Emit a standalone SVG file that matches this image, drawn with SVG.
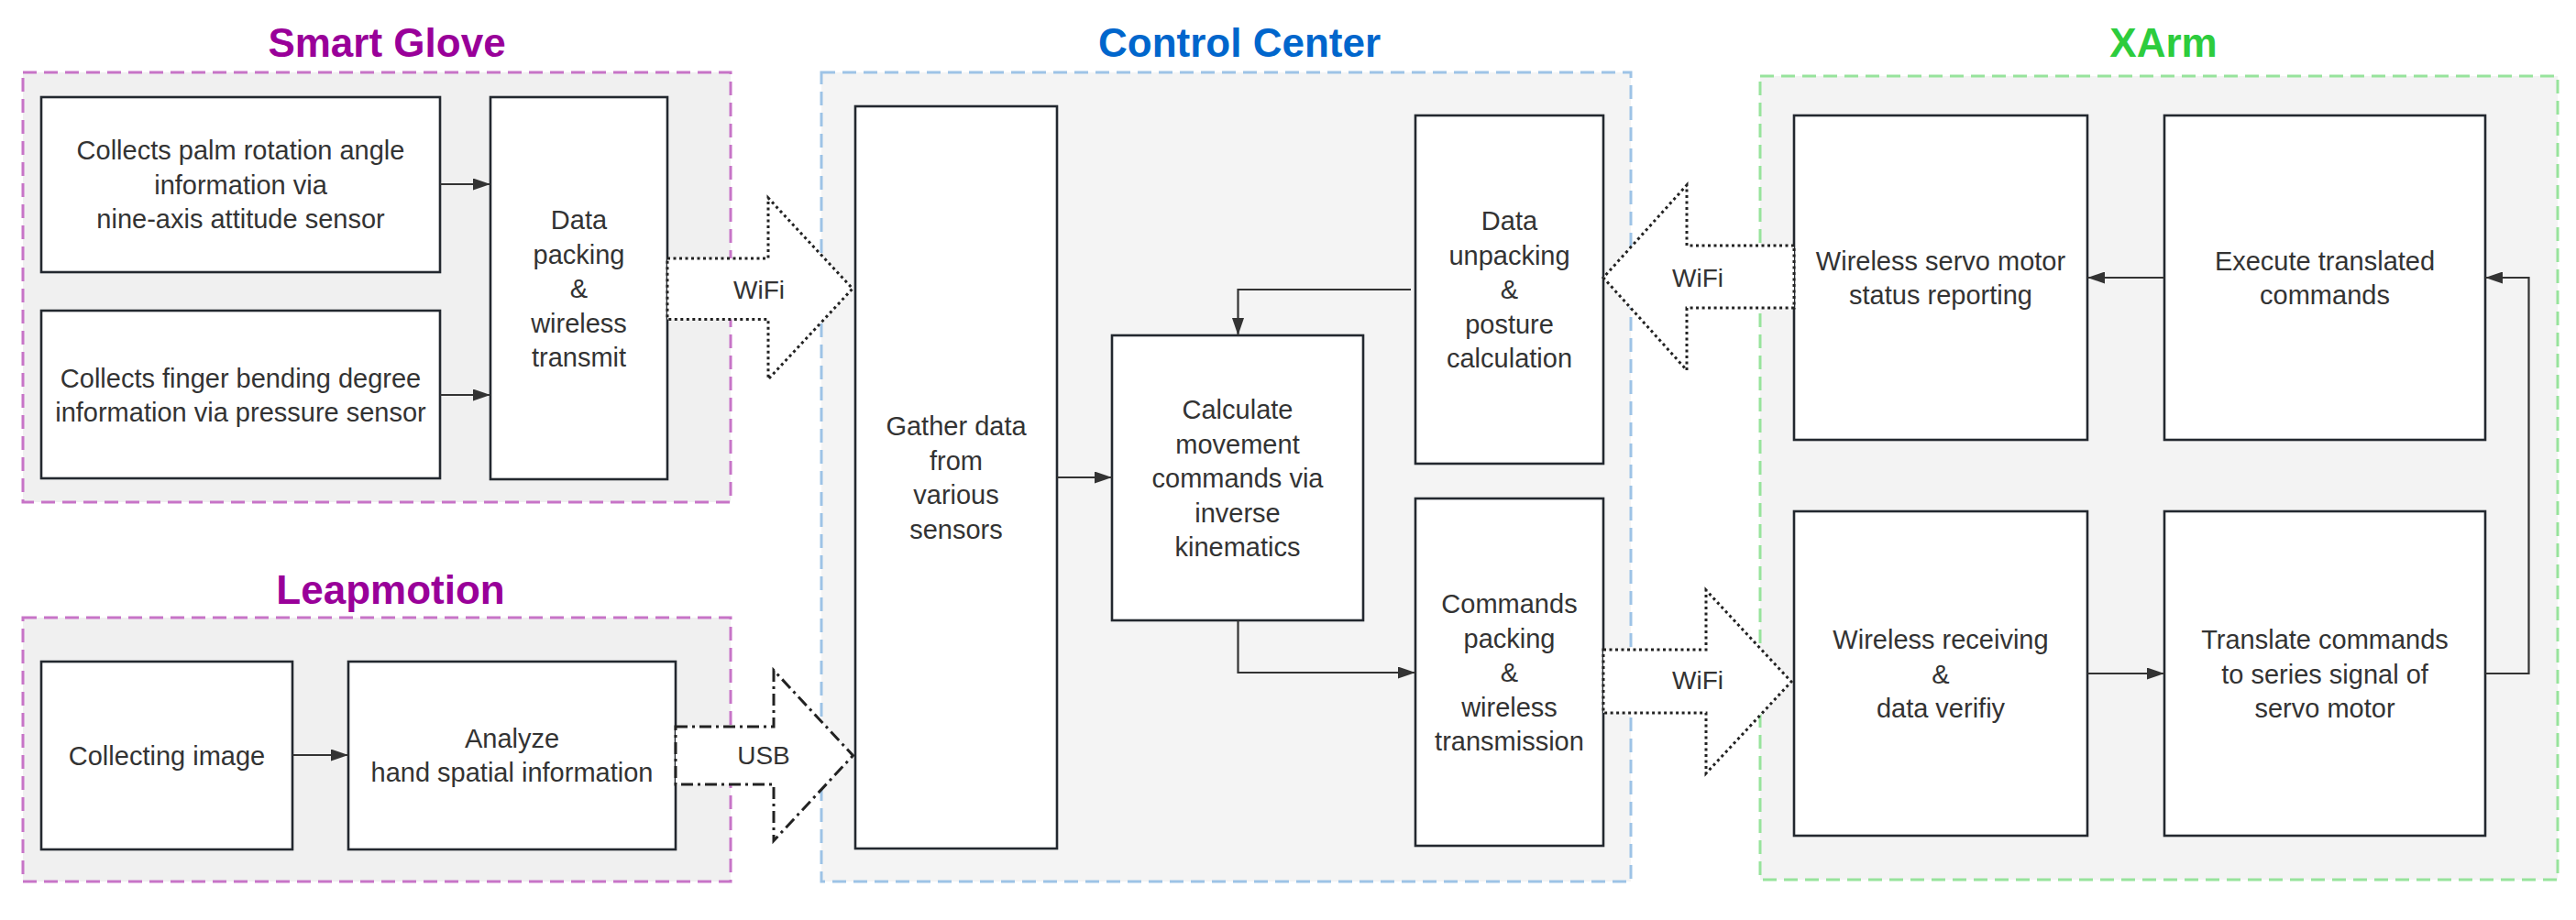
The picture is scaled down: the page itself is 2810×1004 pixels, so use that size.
<svg xmlns="http://www.w3.org/2000/svg" width="2810" height="1004" viewBox="0 0 2810 1004">
<defs>
<style>
.bg{fill:#ffffff}
.cg{fill:#f0f0f0;stroke:#c774c7;stroke-width:3;stroke-dasharray:15 8}
.cc{fill:#f4f4f4;stroke:#9dc3e6;stroke-width:3;stroke-dasharray:15 8}
.cx{fill:#f3f3f3;stroke:#97e39c;stroke-width:3;stroke-dasharray:15 8}
.ttl{font-family:"Liberation Sans",Arial,sans-serif;font-size:44px;font-weight:bold;text-anchor:middle}
.box{fill:#ffffff;stroke:#23282f;stroke-width:2.6}
.t{font-family:"Liberation Sans",Arial,sans-serif;font-size:29px;fill:#333333;text-anchor:middle}
.lbl{font-family:"Liberation Sans",Arial,sans-serif;font-size:28px;fill:#333333;text-anchor:middle}
.ln{fill:none;stroke:#333333;stroke-width:2.2}
.dot{fill:#ffffff;stroke:#222222;stroke-width:3;stroke-dasharray:3 3.5}
.dd{fill:#ffffff;stroke:#222222;stroke-width:3;stroke-dasharray:13 5 3 5}
</style>
<marker id="ah" viewBox="0 0 19 13" refX="19" refY="6.5" markerWidth="19" markerHeight="13" markerUnits="userSpaceOnUse" orient="auto">
<path d="M0,0 L19,6.5 L0,13 Z" fill="#333333"/>
</marker>
</defs>
<rect class="bg" x="0" y="0" width="2810" height="1004"/>

<g id="container-smart-glove">
<rect class="cg" x="25" y="79" width="772" height="469"/>
<text class="ttl" x="422" y="62" fill="#990099">Smart Glove</text>
</g>
<g id="container-leapmotion">
<rect class="cg" x="25" y="674" width="772" height="288"/>
<text class="ttl" x="426" y="659" fill="#990099">Leapmotion</text>
</g>
<g id="container-control-center">
<rect class="cc" x="896" y="79" width="883" height="883"/>
<text class="ttl" x="1352" y="62" fill="#0066cc">Control Center</text>
</g>
<g id="container-xarm">
<rect class="cx" x="1920" y="83" width="870" height="877"/>
<text class="ttl" x="2360" y="62" fill="#2dcc3d">XArm</text>
</g>

<g id="node-palm">
<rect class="box" x="45" y="106" width="435" height="191"/>
<text class="t"><tspan x="262.5" y="174">Collects palm rotation angle</tspan><tspan x="262.5" y="211.5">information via</tspan><tspan x="262.5" y="249">nine-axis attitude sensor</tspan></text>
</g>
<g id="node-finger">
<rect class="box" x="45" y="339" width="435" height="183"/>
<text class="t"><tspan x="262.5" y="423">Collects finger bending degree</tspan><tspan x="262.5" y="460">information via pressure sensor</tspan></text>
</g>
<g id="node-data-packing">
<rect class="box" x="535" y="106" width="193" height="417"/>
<text class="t"><tspan x="631.5" y="250">Data</tspan><tspan x="631.5" y="287.5">packing</tspan><tspan x="631.5" y="325">&amp;</tspan><tspan x="631.5" y="362.5">wireless</tspan><tspan x="631.5" y="400">transmit</tspan></text>
</g>
<g id="node-collecting-image">
<rect class="box" x="45" y="722" width="274" height="205"/>
<text class="t" x="182" y="835">Collecting image</text>
</g>
<g id="node-analyze">
<rect class="box" x="380" y="722" width="357" height="205"/>
<text class="t"><tspan x="558.5" y="816">Analyze</tspan><tspan x="558.5" y="853">hand spatial information</tspan></text>
</g>
<g id="node-gather">
<rect class="box" x="933" y="116" width="220" height="810"/>
<text class="t"><tspan x="1043" y="475">Gather data</tspan><tspan x="1043" y="512.5">from</tspan><tspan x="1043" y="550">various</tspan><tspan x="1043" y="587.5">sensors</tspan></text>
</g>
<g id="node-calculate">
<rect class="box" x="1213" y="366" width="274" height="311"/>
<text class="t"><tspan x="1350" y="457">Calculate</tspan><tspan x="1350" y="494.5">movement</tspan><tspan x="1350" y="532">commands via</tspan><tspan x="1350" y="569.5">inverse</tspan><tspan x="1350" y="607">kinematics</tspan></text>
</g>
<g id="node-data-unpacking">
<rect class="box" x="1544" y="126" width="205" height="380"/>
<text class="t"><tspan x="1646.5" y="251">Data</tspan><tspan x="1646.5" y="288.5">unpacking</tspan><tspan x="1646.5" y="326">&amp;</tspan><tspan x="1646.5" y="363.5">posture</tspan><tspan x="1646.5" y="401">calculation</tspan></text>
</g>
<g id="node-commands-packing">
<rect class="box" x="1544" y="544" width="205" height="379"/>
<text class="t"><tspan x="1646.5" y="669">Commands</tspan><tspan x="1646.5" y="706.5">packing</tspan><tspan x="1646.5" y="744">&amp;</tspan><tspan x="1646.5" y="781.5">wireless</tspan><tspan x="1646.5" y="819">transmission</tspan></text>
</g>
<g id="node-servo-status">
<rect class="box" x="1957" y="126" width="320" height="354"/>
<text class="t"><tspan x="2117" y="294.5">Wireless servo motor</tspan><tspan x="2117" y="332">status reporting</tspan></text>
</g>
<g id="node-execute">
<rect class="box" x="2361" y="126" width="350" height="354"/>
<text class="t"><tspan x="2536" y="294.5">Execute translated</tspan><tspan x="2536" y="332">commands</tspan></text>
</g>
<g id="node-wireless-receiving">
<rect class="box" x="1957" y="558" width="320" height="354"/>
<text class="t"><tspan x="2117" y="708">Wireless receiving</tspan><tspan x="2117" y="745.5">&amp;</tspan><tspan x="2117" y="783">data verifiy</tspan></text>
</g>
<g id="node-translate">
<rect class="box" x="2361" y="558" width="350" height="354"/>
<text class="t"><tspan x="2536" y="708">Translate commands</tspan><tspan x="2536" y="745.5">to series signal of</tspan><tspan x="2536" y="783">servo motor</tspan></text>
</g>

<g id="connectors">
<line class="ln" x1="480" y1="201" x2="535" y2="201" marker-end="url(#ah)"/>
<line class="ln" x1="480" y1="431" x2="535" y2="431" marker-end="url(#ah)"/>
<line class="ln" x1="319" y1="824" x2="380" y2="824" marker-end="url(#ah)"/>
<line class="ln" x1="1153" y1="521" x2="1213" y2="521" marker-end="url(#ah)"/>
<path class="ln" d="M1539,316 H1350.5 V366" marker-end="url(#ah)"/>
<path class="ln" d="M1350.5,677 V734 H1544" marker-end="url(#ah)"/>
<path class="ln" d="M2711,735 H2758.5 V303 H2711" marker-end="url(#ah)"/>
<path class="ln" d="M2361,303 H2277" marker-end="url(#ah)"/>
<path class="ln" d="M2277,735 H2361" marker-end="url(#ah)"/>

<g id="link-glove-wifi">
<polygon class="dot" points="728,282 838,282 838,216 930,315 838,414 838,348.5 728,348.5"/>
<text class="lbl" x="828" y="326">WiFi</text>
</g>
<g id="link-leap-usb">
<polygon class="dd" points="737,793 844,793 844,731.5 930.5,824.5 844,917.5 844,856 737,856"/>
<text class="lbl" x="833" y="834">USB</text>
</g>
<g id="link-status-wifi">
<polygon class="dd" style="stroke-dasharray:3 3.5" points="1957,268 1840,268 1840,202 1749,303 1840,404 1840,336 1957,336"/>
<text class="lbl" x="1852" y="313">WiFi</text>
</g>
<g id="link-commands-wifi">
<polygon class="dot" points="1749,709 1861,709 1861,644 1954,744 1861,844 1861,778 1749,778"/>
<text class="lbl" x="1852" y="752">WiFi</text>
</g>
</g>
</svg>
